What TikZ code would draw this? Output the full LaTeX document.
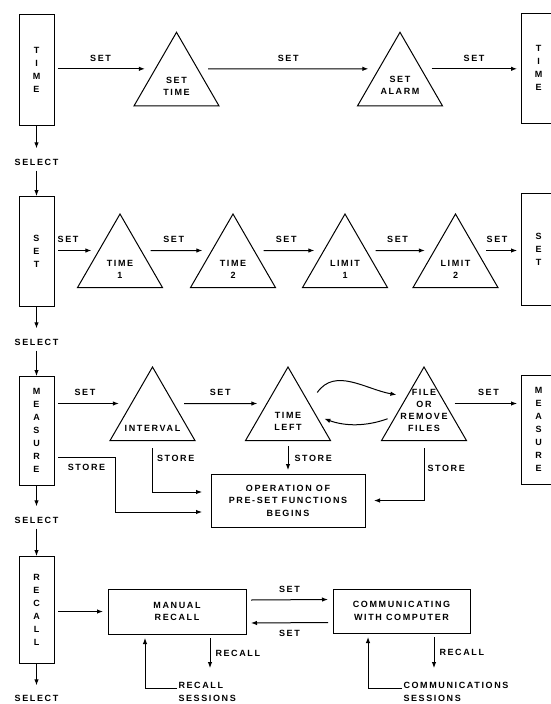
\documentclass[tikz,border=0pt]{standalone}
\usepackage{fontspec}
\newfontfamily\diafont{Liberation Sans}[LetterSpace=18]
\usetikzlibrary{arrows.meta, shapes.geometric, positioning}

\begin{document}
\begin{tikzpicture}[x = 1pt, y = -1pt, line width = 1pt,
        flow/.style = {-{Latex[length = 6pt, width = 4.5pt]}},
        lab/.style = {font = {\diafont\bfseries\fontsize{9}{12.5}\selectfont}, inner sep = 1pt},
        modebox/.style = {draw, minimum width = 35pt, inner sep = 0pt, outer xsep = 4pt, outer ysep = 0pt,
            align = center, font = {\diafont\bfseries\fontsize{9}{13}\selectfont}},
        box/.style = {draw, inner sep = 0pt, outer xsep = 5pt, outer ysep = 4pt,
            align = center, font = {\diafont\bfseries\fontsize{9}{12.5}\selectfont}},
        tri/.style = {draw, regular polygon, regular polygon sides = 3, minimum size = 98pt, inner sep = 0pt},
        tritext/.style = {lab, align = center, inner sep = 0pt,
            font = {\diafont\bfseries\fontsize{9}{12}\selectfont}}]
        \useasboundingbox (0,0) rectangle (551,704);
        \clip (0,0) rectangle (551,704);

        \node[modebox, minimum height = 111pt] (timeL) at (36.5,69.5) {T\\I\\M\\E};
        \node[modebox, minimum height = 110pt] (setL) at (36.5,251) {S\\E\\T};
        \node[modebox, minimum height = 109pt] (measL) at (36.5,430.5) {M\\E\\A\\S\\U\\R\\E};
        \node[modebox, minimum height = 107pt] (recL) at (36.5,609.5) {R\\E\\C\\A\\L\\L};
        \node[modebox, minimum height = 110pt] (timeR) at (538.5,68) {T\\I\\M\\E};
        \node[modebox, minimum height = 112pt] (setR) at (538.5,249) {S\\E\\T};
        \node[modebox, minimum height = 109pt] (measR) at (538.5,429.5) {M\\E\\A\\S\\U\\R\\E};

        \foreach \n/\y in {1/162, 2/342, 3/520, 4/698}
            \node[lab] (sel\n) at (36.5,\y) {SELECT};
        \foreach \a/\s/\b in {timeL/sel1/setL, setL/sel2/measL, measL/sel3/recL} {
            \draw[flow, shorten >= 9pt] (\a.south) -- (\s.north);
            \draw[flow, shorten <= 4pt] (\s.south) -- (\b.north);
        }
        \draw[flow, shorten >= 8pt] (recL.south) -- (sel4.north);

        \foreach \n/\x/\y/\dy/\t in {setTime/176.5/81.3/-5.5/{SET\\TIME}, setAlarm/400/81.3/-4.5/{SET\\ALARM},
                time1/120/263/-6.5/{TIME\\1}, time2/233/263/-6.5/{TIME\\2},
                limit1/345/263/-6.5/{LIMIT\\1}, limit2/455.5/263/-6.5/{LIMIT\\2},
                interval/152.5/416/-12/{INTERVAL}, timeLeft/288/416/-5.5/{TIME\\LEFT},
                fileOr/424/416/5.5/{FILE\\OR\\REMOVE\\FILES}}
            \node[tri, label = {[tritext, yshift = \dy pt]center:\t}] (\n) at (\x,\y) {};

        \draw[flow, shorten >= 10pt] (timeL.east |- setTime.150) -- (setTime.150)
            node[lab, above = 6pt, pos = 0.44] {SET};
        \draw[flow, shorten <= 10pt, shorten >= 10pt] (setTime.30) -- (setAlarm.150)
            node[lab, above = 6pt, midway] {SET};
        \draw[flow, shorten <= 10pt] (setAlarm.30) -- (timeR.west |- setAlarm.30)
            node[lab, above = 6pt, pos = 0.55] {SET};

        \draw[flow, shorten >= 7pt] (setL.east |- time1.150) -- (time1.150)
            node[lab, above = 6pt, pos = 0.25] {SET};
        \foreach \a/\b in {time1/time2, time2/limit1, limit1/limit2}
            \draw[flow, shorten <= 9pt, shorten >= 9pt] (\a.30) -- (\b.150)
                node[lab, above = 6pt, pos = 0.46] {SET};
        \draw[flow, shorten <= 9pt] (limit2.30) -- (setR.west |- limit2.30)
            node[lab, above = 6pt, midway] {SET};

        \draw[flow, shorten >= 12pt] (measL.east |- interval.150) -- (interval.150)
            node[lab, above = 6pt, pos = 0.37] {SET};
        \draw[flow, shorten <= 10pt, shorten >= 9pt] (interval.30) -- (timeLeft.150)
            node[lab, above = 6pt, midway] {SET};
        \draw[flow, shorten <= 9pt] (fileOr.30) -- (measR.west |- fileOr.30)
            node[lab, above = 6pt, pos = 0.6] {SET};
        \draw[flow] ([xshift = 14pt]timeLeft.57) to[out = 55, in = 170] ([xshift = -11pt]fileOr.128);
        \draw[flow, shorten <= 8pt, shorten >= 8pt] (fileOr.180) to[out = 200, in = -20] (timeLeft.0);

        \node[box, outer xsep = 9pt, minimum width = 154pt, minimum height = 53pt] (opBox) at (288,500.5)
            {OPERATION OF\\PRE-SET FUNCTIONS\\BEGINS};
        \draw[flow] ([yshift = -26.5pt]measL.east) -| node[lab, below = 6pt, pos = 0.25] {STORE}
            ([xshift = -87pt, yshift = -11.5pt]opBox.west) -- ([yshift = -11.5pt]opBox.west);
        \draw[flow] ([yshift = -7pt]interval.south) |- ([yshift = 8.5pt]opBox.west)
            node[lab, right = 3pt, pos = 0.12] {STORE};
        \draw[flow, shorten <= 5pt] (timeLeft.south) -- (opBox.north)
            node[lab, right = 5pt, pos = 0.6] {STORE};
        \draw[flow] ([yshift = -7pt]fileOr.south) |- (opBox.east)
            node[lab, right = 2pt, pos = 0.19] {STORE};

        \node[box, minimum width = 138pt, minimum height = 45pt] (manual) at (177,611.5) {MANUAL\\RECALL};
        \node[box, minimum width = 137pt, minimum height = 44pt] (comm) at (401.5,611)
            {COMMUNICATING\\WITH COMPUTER};
        \draw[flow] (recL.east |- manual.west) -- (manual.west);
        \draw[flow] ([yshift = 11.5pt]manual.east) -- ([yshift = 11.5pt]comm.west)
            node[lab, above = 6pt, midway] {SET};
        \draw[flow] ([yshift = -11.5pt]comm.west) -- ([yshift = -11.5pt]manual.east)
            node[lab, below = 6pt, midway] {SET};
        \draw[flow] ([xshift = 33pt]manual.south) -- ++(0,30) node[lab, right = 4pt, midway] {RECALL};
        \draw[flow] ([xshift = 32.5pt]comm.south) -- ++(0,31) node[lab, right = 4pt, midway] {RECALL};
        \node[lab, align = left, anchor = west] (recSess) at (177,692) {RECALL\\SESSIONS};
        \node[lab, align = left, anchor = west] (commSess) at (402,692) {COMMUNICATIONS\\SESSIONS};
        \draw[flow] ([yshift = 4pt]recSess.west) -| ([xshift = -32pt]manual.south);
        \draw[flow] ([yshift = 4pt]commSess.west) -| ([xshift = -33.5pt]comm.south);
    \end{tikzpicture}
\end{document}
